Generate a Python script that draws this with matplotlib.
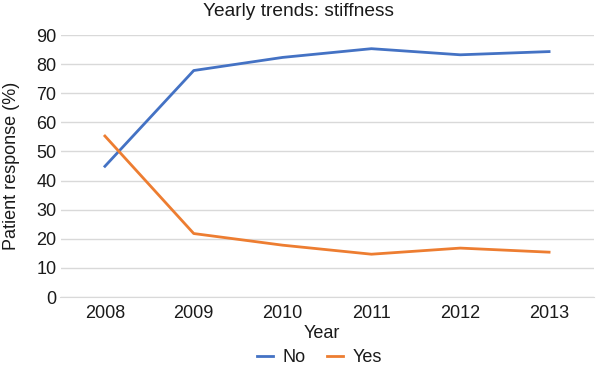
import matplotlib
matplotlib.use("Agg")
import matplotlib.pyplot as plt

years = ["2008", "2009", "2010", "2011", "2012", "2013"]
no_values = [44.9, 77.8, 82.3, 85.3, 83.2, 84.3]
yes_values = [55.3, 21.8, 17.8, 14.7, 16.8, 15.4]
yticks = [0, 10, 20, 30, 40, 50, 60, 70, 80, 90]

plt.rcParams['font.family'] = ['Liberation Sans', 'DejaVu Sans']
FS = 13
TXT = "#1a1a1a"

fig = plt.figure(figsize=(5.97, 3.68), dpi=100)
ax_l, ax_b, ax_w, ax_h = 60.5/597, 1 - 297/368, 533/597, 262/368
ax = fig.add_axes([ax_l, ax_b, ax_w, ax_h])

x = list(range(len(years)))
ax.plot(x, no_values, color="#4472C4", lw=2, label="No")
ax.plot(x, yes_values, color="#ED7D31", lw=2, label="Yes")

ax.set_xlim(-0.5, len(years) - 0.5)
ax.set_ylim(0, 90)
ax.set_yticks(yticks)
ax.set_xticks(x)
ax.set_xticklabels(years)
ax.tick_params(axis='both', length=0, labelsize=FS, colors=TXT)
ax.tick_params(axis='x', pad=6)
ax.tick_params(axis='y', pad=3)
ax.grid(axis='y', color="#D9D9D9", lw=1)
ax.set_axisbelow(True)
for s in ["top", "right", "left"]:
    ax.spines[s].set_visible(False)
ax.spines["bottom"].set_color("#D9D9D9")

ax.set_ylabel("Patient response (%)", fontsize=FS, color=TXT, va="center")
ax.yaxis.set_label_coords((12 - 60.5) / 533, 0.5)
ax.set_xlabel("Year", fontsize=FS, color=TXT, va="center")
ax.xaxis.set_label_coords((321.7 - 60.5) / 533, (297 - 333) / 262)

fig.text(0.5, 1 - 12/368, "Yearly trends: stiffness", ha="center",
         va="center", fontsize=13.8, color=TXT)

fig.legend(loc="center", bbox_to_anchor=(319.5/597, 1 - 357.5/368), ncol=2,
           frameon=False, fontsize=FS, handlelength=0.9, columnspacing=1.2,
           handletextpad=0.5, borderpad=0, labelcolor=TXT)

fig.savefig("out.png", dpi=100)
